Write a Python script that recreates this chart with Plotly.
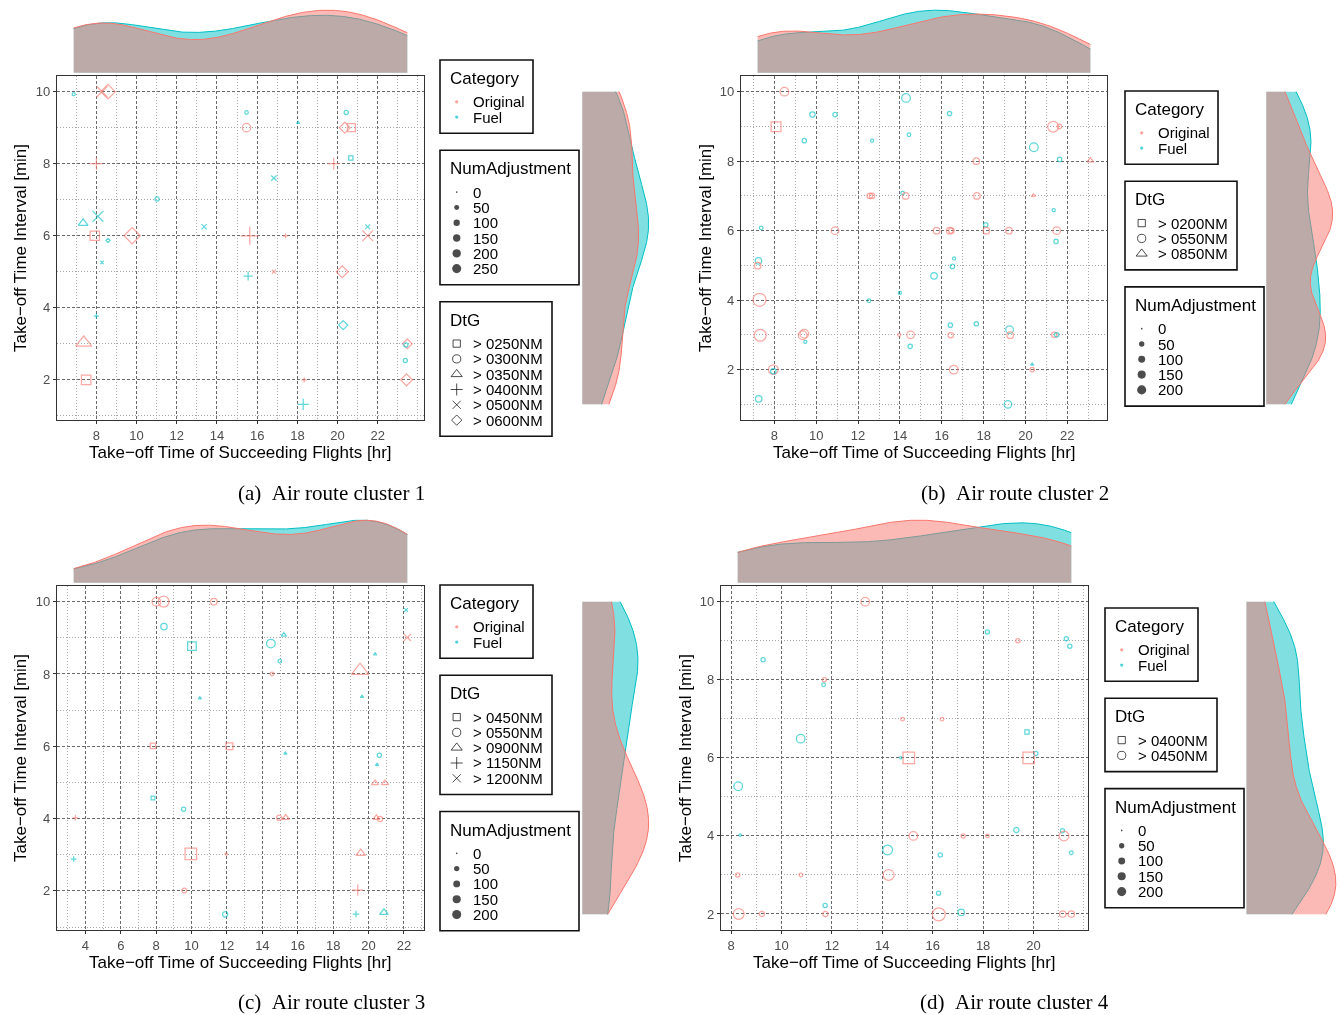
import math
import numpy as np
import plotly.graph_objects as go

W, H = 1339, 1015
SANS = "Liberation Sans, Arial, Helvetica, sans-serif"
SERIF = "Liberation Serif, Times New Roman, serif"
CAT_NAME = {"O": "Original", "F": "Fuel"}
COL = {"O": "#F8766D", "F": "#00BFC4"}
FILL = {"O": "rgba(248,118,109,0.5)", "F": "rgba(0,191,196,0.5)"}

# ---------------- Air route cluster 1 ----------------
a_cat = ["F", "O", "O", "O", "F", "O", "F", "F", "F", "O", "F", "O", "F", "F", "O", "F", "F", "O", "O",
         "F", "F", "O", "O", "F", "O", "F", "O", "F", "O", "O", "O", "F", "O", "F", "F", "O", "O", "F"]
a_x = [6.87, 8.28, 8.58, 15.47, 15.47, 8.0, 11.02, 8.08, 7.34, 7.92, 8.58, 9.78, 8.28, 13.36, 15.63, 15.55, 8.0, 7.37, 7.49,
       20.43, 18.04, 20.36, 20.69, 20.66, 19.81, 16.83, 17.41, 21.5, 21.5, 16.83, 20.23, 20.28, 23.47, 23.4, 23.37, 23.43, 18.34, 18.29]
a_y = [9.93, 10.0, 10.0, 9.0, 9.42, 8.0, 7.02, 6.54, 6.35, 6.0, 5.87, 6.0, 5.26, 6.25, 6.0, 4.88, 3.77, 3.03, 2.0,
       9.42, 9.14, 9.0, 9.0, 8.16, 8.0, 7.6, 6.0, 6.25, 6.0, 5.0, 5.0, 3.52, 3.0, 2.97, 2.54, 2.0, 2.0, 1.32]
a_dtg = [300, 500, 600, 300, 300, 400, 300, 500, 350, 250, 600, 600, 500, 500, 400, 400, 400, 350, 250,
         300, 350, 600, 250, 250, 400, 500, 400, 500, 500, 500, 600, 600, 600, 300, 300, 600, 400, 400]
a_num = [2, 158, 192, 79, 4, 76, 8, 158, 53, 150, 3, 250, 3, 20, 216, 32, 4, 197, 150,
         8, 1, 88, 97, 14, 76, 20, 3, 14, 158, 8, 113, 53, 65, 8, 8, 113, 4, 62]
a_dtg_levels = [250, 300, 350, 400, 500, 600]
a_size_breaks = [0, 50, 100, 150, 200, 250]
a_xticks = [8, 10, 12, 14, 16, 18, 20, 22]
a_yticks = [2, 4, 6, 8, 10]

# ---------------- Air route cluster 2 ----------------
b_cat = ["O", "O", "F", "F", "F", "F", "F", "F", "O", "O", "F", "O", "F", "O", "F", "O", "F", "F", "O", "F",
         "O", "O", "O", "F", "O", "O", "F", "O", "F", "F", "F", "O", "O", "F", "F", "O", "O", "O", "O", "F",
         "F", "O", "O", "O", "O", "O", "O", "F", "F", "F", "F", "F", "F", "O", "O", "O", "F", "O", "F", "O", "F"]
b_x = [8.48, 8.08, 9.82, 10.9, 9.43, 14.29, 14.43, 12.67, 12.56, 12.67, 14.13, 14.27, 7.37, 10.9, 7.24, 7.2, 15.63, 14.0, 7.29, 12.52,
       7.32, 9.35, 9.43, 9.48, 13.97, 14.51, 14.49, 7.95, 7.95, 7.25, 16.37, 21.32, 21.62, 20.4, 21.63, 17.65, 23.1, 17.68, 20.38, 21.35,
       18.1, 15.75, 16.38, 16.46, 18.13, 19.21, 21.49, 21.46, 16.59, 16.51, 16.41, 17.65, 19.24, 19.27, 16.43, 21.38, 21.49, 16.57, 20.32, 20.32, 19.16]
b_y = [10.0, 8.99, 9.34, 9.34, 8.59, 9.82, 8.76, 8.59, 7.0, 7.0, 7.08, 7.0, 6.08, 6.0, 5.13, 4.99, 4.7, 4.21, 4.01, 3.98,
       2.99, 2.99, 3.03, 2.8, 3.0, 3.0, 2.67, 2.0, 1.95, 1.16, 9.37, 8.99, 9.0, 8.4, 8.05, 8.0, 8.02, 7.0, 7.01, 6.59,
       6.17, 6.0, 6.0, 6.0, 6.0, 6.0, 6.0, 5.69, 5.2, 4.97, 3.28, 3.32, 3.15, 2.99, 2.99, 3.0, 3.0, 2.0, 2.15, 2.0, 1.0]
b_dtg = [550, 200, 550, 550, 550, 550, 550, 550, 550, 550, 550, 550, 550, 550, 550, 550, 550, 550, 550, 550,
         550, 550, 550, 550, 550, 550, 550, 550, 550, 550, 550, 550, 550, 550, 550, 550, 850, 550, 850, 550,
         550, 550, 550, 550, 550, 550, 550, 550, 550, 550, 550, 550, 550, 550, 550, 550, 550, 550, 850, 550, 550]
b_num = [70, 133, 16, 7, 7, 70, 3, 1, 16, 16, 3, 30, 3, 48, 30, 30, 30, 1, 200, 3,
         161, 70, 70, 1, 1, 48, 7, 96, 16, 30, 7, 127, 7, 70, 7, 30, 11, 30, 1, 1,
         7, 30, 30, 16, 30, 30, 48, 7, 1, 7, 7, 7, 48, 30, 16, 16, 7, 70, 0, 7, 48]
b_dtg_levels = [200, 550, 850]
b_size_breaks = [0, 50, 100, 150, 200]
b_xticks = [8, 10, 12, 14, 16, 18, 20, 22]
b_yticks = [2, 4, 6, 8, 10]

# ---------------- Air route cluster 3 ----------------
c_cat = ["O", "O", "O", "F", "F", "F", "O", "O", "F", "F", "O", "F", "O", "O", "O", "F", "F", "O", "F",
         "F", "F", "O", "F", "O", "F", "F", "F", "F", "O", "O", "O", "O", "O", "O", "O", "O", "F", "F"]
c_x = [8.01, 8.42, 11.26, 8.44, 10.02, 10.47, 7.82, 12.14, 7.82, 9.55, 3.44, 3.34, 9.96, 11.96, 9.59, 11.9, 22.12, 22.19, 15.21,
       14.48, 14.99, 14.55, 20.37, 19.52, 19.63, 15.3, 20.61, 20.48, 20.37, 20.93, 14.95, 15.32, 20.44, 20.65, 19.56, 19.39, 19.29, 20.87]
c_y = [10.0, 10.0, 10.0, 9.31, 8.77, 7.33, 6.01, 6.0, 4.57, 4.26, 4.02, 2.88, 3.02, 3.02, 2.01, 1.35, 9.77, 9.01, 9.08,
       8.84, 8.35, 8.0, 8.55, 8.09, 7.37, 5.8, 5.75, 5.49, 4.98, 4.98, 4.02, 4.02, 4.02, 3.99, 3.04, 2.02, 1.36, 1.4]
c_dtg = [550, 550, 550, 550, 450, 900, 450, 450, 450, 550, 1150, 1150, 450, 550, 550, 550, 1200, 1200, 900,
         550, 550, 550, 900, 900, 900, 900, 550, 900, 900, 900, 550, 900, 900, 550, 900, 1150, 1150, 900]
c_num = [70, 127, 30, 30, 96, 1, 24, 54, 7, 7, 4, 4, 200, 1, 11, 16, 4, 41, 5,
         70, 4, 4, 1, 196, 1, 1, 7, 1, 16, 16, 16, 19, 14, 16, 42, 50, 9, 29]
c_dtg_levels = [450, 550, 900, 1150, 1200]
c_size_breaks = [0, 50, 100, 150, 200]
c_xticks = [4, 6, 8, 10, 12, 14, 16, 18, 20, 22]
c_yticks = [2, 4, 6, 8, 10]

# ---------------- Air route cluster 4 ----------------
d_cat = ["O", "F", "O", "F", "O", "F", "F", "O", "F", "F", "O", "F", "O", "O", "O", "F", "O", "O", "O", "F",
         "O", "F", "F", "O", "F", "F", "O", "O", "O", "F", "F", "O", "F", "F", "F", "O", "F", "O", "O"]
d_x = [13.32, 9.27, 11.7, 11.67, 14.8, 10.76, 14.73, 15.05, 8.28, 8.36, 15.23, 14.21, 8.26, 10.77, 14.25, 11.73, 8.3, 9.22, 11.74, 18.17,
       19.38, 21.3, 21.44, 16.37, 19.74, 20.09, 19.81, 17.21, 18.17, 19.32, 21.15, 21.21, 16.3, 21.5, 16.23, 16.24, 17.13, 21.16, 21.5]
d_y = [10.0, 8.51, 8.0, 7.87, 6.99, 6.49, 6.0, 6.0, 5.27, 4.02, 4.0, 3.64, 3.0, 3.0, 3.0, 2.22, 2.0, 2.0, 2.0, 9.22,
       9.0, 9.05, 8.86, 6.99, 6.66, 6.11, 6.0, 4.0, 4.0, 4.15, 4.13, 4.0, 3.51, 3.57, 2.53, 1.99, 2.04, 2.0, 2.0]
d_dtg = [450, 450, 450, 450, 450, 450, 450, 400, 450, 450, 450, 450, 450, 450, 450, 450, 450, 450, 450, 450,
         450, 450, 450, 450, 400, 450, 400, 450, 450, 450, 450, 450, 450, 450, 450, 450, 450, 450, 450]
d_num = [70, 7, 7, 4, 4, 70, 1, 200, 70, 1, 70, 96, 7, 4, 127, 7, 127, 16, 16, 7,
         7, 7, 7, 4, 11, 7, 200, 7, 4, 16, 7, 96, 7, 4, 7, 200, 30, 30, 30]
d_dtg_levels = [400, 450]
d_size_breaks = [0, 50, 100, 150, 200]
d_xticks = [8, 10, 12, 14, 16, 18, 20]
d_yticks = [2, 4, 6, 8, 10]

# hollow shapes in level order: square, circle, triangle, plus, cross, diamond
SYMBOLS = ["square-open", "circle-open", "triangle-up-open", "cross-thin-open", "x-thin-open", "diamond-open"]
SYM_SCALE = [0.886, 1.0, 1.17, 1.05, 1.0, 0.96]

# page geometry of each sub-figure (pixels)
PANELS = [
    dict(cat=a_cat, x=a_x, y=a_y, dtg=a_dtg, num=a_num, levels=a_dtg_levels, breaks=a_size_breaks,
         xticks=a_xticks, yticks=a_yticks, box=(57, 76, 424, 420), right=(579, 652), right_hi=1.05,
         legend=(440, 60), order=["cat", "num", "dtg"], cap=(236, 493), cap_text="(a)", cap_title="Air route cluster 1",
         ytitle_x=20, xtitle_y=452),
    dict(cat=b_cat, x=b_x, y=b_y, dtg=b_dtg, num=b_num, levels=b_dtg_levels, breaks=b_size_breaks,
         xticks=b_xticks, yticks=b_yticks, box=(741, 76, 1107, 420), right=(1263, 1336), right_hi=1.05,
         legend=(1125, 91), order=["cat", "dtg", "num"], cap=(919, 493), cap_text="(b)", cap_title="Air route cluster 2",
         ytitle_x=705, xtitle_y=452),
    dict(cat=c_cat, x=c_x, y=c_y, dtg=c_dtg, num=c_num, levels=c_dtg_levels, breaks=c_size_breaks,
         xticks=c_xticks, yticks=c_yticks, box=(57, 586, 424, 930), right=(579, 652), right_hi=1.05,
         legend=(440, 585), order=["cat", "dtg", "num"], cap=(236, 1002), cap_text="(c)", cap_title="Air route cluster 3",
         ytitle_x=20, xtitle_y=962),
    dict(cat=d_cat, x=d_x, y=d_y, dtg=d_dtg, num=d_num, levels=d_dtg_levels, breaks=d_size_breaks,
         xticks=d_xticks, yticks=d_yticks, box=(721, 586, 1088, 930), right=(1242, 1339), right_hi=1.035,
         legend=(1105, 608), order=["cat", "dtg", "num"], cap=(918, 1002), cap_text="(d)", cap_title="Air route cluster 4",
         ytitle_x=685, xtitle_y=962),
]


def xdom(p0, p1):
    return [p0 / W, p1 / W]


def ydom(top, bottom):
    return [1 - bottom / H, 1 - top / H]


def px(x):
    return x / W


def py(y):
    return 1 - y / H


def ax_key(kind, n):
    return f"{kind}axis" if n == 1 else f"{kind}axis{n}"


def ax_ref(kind, n):
    return kind if n == 1 else f"{kind}{n}"


def expand(vals, f=0.05):
    lo, hi = min(vals), max(vals)
    pad = (hi - lo) * f
    return [lo - pad, hi + pad]


def size_scale(v, vmin, vmax):
    t = (np.asarray(v, float) - vmin) / (vmax - vmin)
    return 2.4 + 10.6 * np.sqrt(np.clip(t, 0, 1))


def kde(vals, lo, hi, n=512):
    v = np.asarray(vals, float)
    sd = v.std(ddof=1)
    q75, q25 = np.percentile(v, [75, 25])
    spread = min(sd, (q75 - q25) / 1.34) if q75 > q25 else sd
    bw = 0.9 * spread * len(v) ** -0.2
    g = np.linspace(lo, hi, n)
    z = (g[:, None] - v[None, :]) / bw
    return g, np.exp(-0.5 * z * z).sum(axis=1) / (len(v) * bw * math.sqrt(2 * math.pi))


def main_axis(dom, rng, ticks, anchor):
    minor_vals = [v for v in range(math.ceil(rng[0]), math.floor(rng[1]) + 1) if v not in ticks]
    return dict(domain=dom, range=rng, anchor=anchor, tickmode="array", tickvals=ticks,
                ticktext=[str(t) for t in ticks], ticks="outside", ticklen=3, tickwidth=1,
                tickcolor="#333333", tickfont=dict(family=SANS, size=13, color="#4D4D4D"),
                showgrid=True, gridcolor="#6a6a6a", gridwidth=1, griddash="3px,2px",
                minor=dict(tickmode="array", tickvals=minor_vals, showgrid=True, gridcolor="#a8a8a8",
                           gridwidth=1, griddash="1px,2px", ticks=""),
                showline=True, mirror=True, linecolor="#333333", linewidth=1.3,
                zeroline=False, fixedrange=True)


def hidden_axis(dom, rng, anchor):
    return dict(domain=dom, range=rng, anchor=anchor, visible=False, fixedrange=True)


fig = go.Figure()
layout = dict(width=W, height=H, margin=dict(l=0, r=0, t=0, b=0), paper_bgcolor="white",
              plot_bgcolor="rgba(0,0,0,0)", showlegend=False)
annotations, shapes = [], []
key_x, key_y, key_sym, key_size, key_col, key_lw = [], [], [], [], [], []

for p, P in enumerate(PANELS):
    nm, nt, nr = 3 * p + 1, 3 * p + 2, 3 * p + 3
    x0, y0, x1, y1 = P["box"]
    xr, yr = expand(P["x"]), expand(P["y"])

    # main scatter panel
    layout[ax_key("x", nm)] = main_axis(xdom(x0, x1), xr, P["xticks"], ax_ref("y", nm))
    layout[ax_key("y", nm)] = main_axis(ydom(y0, y1), yr, P["yticks"], ax_ref("x", nm))
    vmin, vmax = min(P["num"]), max(P["num"])
    base = size_scale(P["num"], vmin, vmax)
    li = [P["levels"].index(d) for d in P["dtg"]]
    cols = [COL[c] for c in P["cat"]]
    fig.add_trace(go.Scatter(
        x=P["x"], y=P["y"], mode="markers", opacity=0.9, cliponaxis=False,
        marker=dict(symbol=[SYMBOLS[i] for i in li], size=[s * SYM_SCALE[i] for s, i in zip(base, li)],
                    color=cols, line=dict(color=cols, width=1.25)),
        xaxis=ax_ref("x", nm), yaxis=ax_ref("y", nm), hoverinfo="skip"))

    # marginal densities
    xs = {c: [v for v, k in zip(P["x"], P["cat"]) if k == c] for c in ("F", "O")}
    ys = {c: [v for v, k in zip(P["y"], P["cat"]) if k == c] for c in ("F", "O")}
    dx = {c: kde(xs[c], min(P["x"]), max(P["x"])) for c in ("F", "O")}
    dy = {c: kde(ys[c], min(P["y"]), max(P["y"])) for c in ("F", "O")}
    mx = max(dx[c][1].max() for c in dx)
    my = max(dy[c][1].max() for c in dy)

    layout[ax_key("x", nt)] = hidden_axis(xdom(x0, x1), xr, ax_ref("y", nt))
    layout[ax_key("y", nt)] = hidden_axis(ydom(y0 - 69, y0), [-0.05 * mx, 1.05 * mx], ax_ref("x", nt))
    rx0, rx1 = P["right"]
    layout[ax_key("x", nr)] = hidden_axis(xdom(rx0, rx1), [-0.05 * my, P["right_hi"] * my], ax_ref("y", nr))
    layout[ax_key("y", nr)] = hidden_axis(ydom(y0, y1), yr, ax_ref("x", nr))
    for c in ("F", "O"):
        g, d = dx[c]
        fig.add_trace(go.Scatter(x=g, y=d, mode="lines", fill="tozeroy", fillcolor=FILL[c],
                                 line=dict(color=COL[c], width=1), xaxis=ax_ref("x", nt),
                                 yaxis=ax_ref("y", nt), hoverinfo="skip"))
        g, d = dy[c]
        fig.add_trace(go.Scatter(x=d, y=g, mode="lines", fill="tozerox", fillcolor=FILL[c],
                                 line=dict(color=COL[c], width=1), xaxis=ax_ref("x", nr),
                                 yaxis=ax_ref("y", nr), hoverinfo="skip"))

    # axis titles and caption
    annotations.append(dict(x=px((x0 + x1) / 2), y=py(P["xtitle_y"]), xref="paper", yref="paper",
                            text="Take\u2212off Time of Succeeding Flights [hr]", showarrow=False,
                            font=dict(family=SANS, size=17, color="black"), xanchor="center", yanchor="middle"))
    annotations.append(dict(x=px(P["ytitle_x"]), y=py((y0 + y1) / 2), xref="paper", yref="paper",
                            text="Take\u2212off Time Interval [min]", showarrow=False, textangle=-90,
                            font=dict(family=SANS, size=17, color="black"), xanchor="center", yanchor="middle"))
    annotations.append(dict(x=px(P["cap"][0]), y=py(P["cap"][1]), xref="paper", yref="paper",
                            text=P["cap_text"] + "\u00a0\u00a0" + P["cap_title"], showarrow=False,
                            font=dict(family=SERIF, size=21, color="black"), xanchor="left", yanchor="middle"))

    # legend boxes
    lx, top = P["legend"]
    for part in P["order"]:
        if part == "cat":
            title, width = "Category", 93
            entries = [(CAT_NAME[c], "circle", 3.2, COL[c], 0) for c in ("O", "F")]
        elif part == "num":
            title, width = "NumAdjustment", 139
            ls = size_scale(P["breaks"], vmin, vmax) * 0.7
            entries = [(str(b), "circle", s, "black", 0) for b, s in zip(P["breaks"], ls)]
        else:
            title, width = "DtG", 112
            entries = [("> %04dNM" % lv, SYMBOLS[i], 8.2 * SYM_SCALE[i], "black", 1)
                       for i, lv in enumerate(P["levels"])]
        n = len(entries)
        h = 58 + 15.3 * (n - 1)
        shapes.append(dict(type="rect", xref="paper", yref="paper", x0=px(lx), x1=px(lx + width),
                           y0=py(top), y1=py(top + h), line=dict(color="#111111", width=1.6),
                           fillcolor="white", layer="below"))
        annotations.append(dict(x=px(lx + 8), y=py(top + 18.5), xref="paper", yref="paper", text=title,
                                showarrow=False, font=dict(family=SANS, size=17, color="black"),
                                xanchor="left", yanchor="middle"))
        for i, (label, sym, sz, col, lw) in enumerate(entries):
            yy = top + 41.8 + 15.3 * i
            annotations.append(dict(x=px(lx + 31), y=py(yy), xref="paper", yref="paper", text=label,
                                    showarrow=False, font=dict(family=SANS, size=15, color="black"),
                                    xanchor="left", yanchor="middle"))
            key_x.append(lx + 16.7)
            key_y.append(yy)
            key_sym.append(sym)
            key_size.append(sz)
            key_col.append(col)
            key_lw.append(lw)
        top += h + 17

# legend keys on a full-page pixel overlay
layout["xaxis13"] = dict(domain=[0, 1], range=[0, W], anchor="y13", visible=False, fixedrange=True)
layout["yaxis13"] = dict(domain=[0, 1], range=[H, 0], anchor="x13", visible=False, fixedrange=True)
fig.add_trace(go.Scatter(x=key_x, y=key_y, mode="markers", cliponaxis=False,
                         marker=dict(symbol=key_sym, size=key_size, color=key_col,
                                     line=dict(color=key_col, width=key_lw)),
                         xaxis="x13", yaxis="y13", hoverinfo="skip"))

layout["annotations"] = annotations
layout["shapes"] = shapes
fig.update_layout(**layout)
fig.write_html("out.html")
